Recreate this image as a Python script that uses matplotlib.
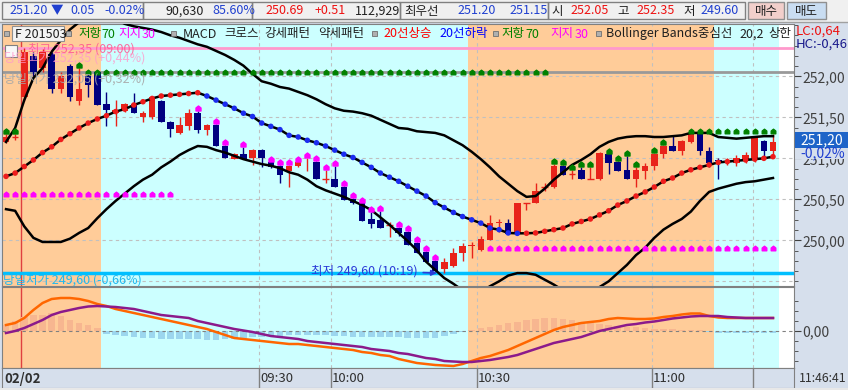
import numpy as np
import matplotlib.pyplot as plt
from matplotlib.patches import Rectangle
from matplotlib.path import Path

plt.rcParams['font.family'] = ['Noto Sans CJK KR', 'DejaVu Sans']

W, H = 848, 390

# ---- candle data (bar index 0..84) ----
opens = [251.20, 251.26, 251.75, 252.25, 252.10, 252.27, 251.85, 252.12, 251.70, 252.00,
         252.05, 251.66, 251.55, 251.58, 251.66, 251.50, 251.50, 251.70, 251.44, 251.31,
         251.39, 251.55, 251.35, 251.41, 251.15, 250.99, 251.05, 251.00, 251.10, 250.95,
         250.91, 250.85, 250.91, 250.95, 250.96, 250.75, 250.75, 250.65, 250.51, 250.45,
         250.26, 250.25, 250.19, 250.15, 250.10, 249.97, 249.86, 249.75, 249.65, 249.69,
         249.84, 249.93, 249.88, 250.00, 250.21, 250.21, 250.08, 250.46, 250.46, 250.65,
         250.65, 250.91, 250.81, 250.86, 250.75, 250.75, 251.05, 250.96, 250.86, 250.75,
         250.85, 250.91, 251.05, 251.15, 251.09, 251.20, 251.31, 251.09, 250.98, 250.97,
         250.94, 250.97, 251.00, 251.21, 251.09]
highs = [251.30, 251.30, 252.35, 252.30, 252.33, 252.30, 252.05, 252.15, 252.10, 252.05,
         252.06, 251.81, 251.71, 251.68, 251.80, 251.58, 251.76, 251.71, 251.45, 251.50,
         251.60, 251.58, 251.42, 251.42, 251.16, 251.06, 251.14, 251.11, 251.11, 250.96,
         250.92, 250.92, 250.96, 251.00, 250.97, 250.86, 250.91, 250.66, 250.52, 250.46,
         250.35, 250.36, 250.22, 250.16, 250.11, 249.98, 249.87, 249.76, 249.79, 249.91,
         249.97, 249.98, 250.05, 250.31, 250.26, 250.26, 250.46, 250.46, 250.70, 250.70,
         250.93, 250.92, 250.86, 250.89, 250.89, 251.08, 251.06, 250.97, 251.03, 250.90,
         250.94, 251.07, 251.16, 251.28, 251.22, 251.35, 251.32, 251.14, 251.00, 251.00,
         251.04, 251.08, 251.26, 251.22, 251.30]
lows = [251.19, 251.22, 251.70, 252.00, 252.05, 251.80, 251.80, 251.70, 251.65, 251.75,
        251.65, 251.40, 251.40, 251.56, 251.55, 251.44, 251.48, 251.44, 251.26, 251.30,
        251.35, 251.31, 251.28, 251.15, 251.00, 250.99, 250.99, 250.92, 250.89, 250.88,
        250.70, 250.65, 250.90, 250.85, 250.75, 250.70, 250.65, 250.49, 250.44, 250.23,
        250.15, 250.15, 250.04, 250.05, 249.94, 249.85, 249.74, 249.63, 249.60, 249.68,
        249.75, 249.78, 249.87, 250.00, 250.10, 250.08, 250.07, 250.37, 250.45, 250.60,
        250.64, 250.80, 250.75, 250.75, 250.75, 250.74, 250.81, 250.85, 250.75, 250.65,
        250.75, 250.86, 251.00, 251.09, 251.04, 251.19, 251.04, 250.90, 250.75, 250.92,
        250.91, 250.94, 250.95, 251.01, 251.01]
closes = [251.26, 251.26, 252.30, 252.05, 252.30, 251.85, 252.00, 251.75, 251.85, 251.90,
          251.65, 251.59, 251.59, 251.66, 251.55, 251.55, 251.75, 251.44, 251.36, 251.41,
          251.55, 251.35, 251.41, 251.15, 251.00, 251.05, 250.99, 251.10, 251.00, 250.89,
          250.80, 250.91, 250.95, 250.96, 250.75, 250.75, 250.65, 250.49, 250.45, 250.23,
          250.20, 250.15, 250.19, 250.09, 249.94, 249.85, 249.74, 249.63, 249.74, 249.85,
          249.93, 249.94, 250.02, 250.21, 250.22, 250.08, 250.46, 250.46, 250.60, 250.65,
          250.91, 250.80, 250.81, 250.75, 250.75, 251.06, 250.94, 250.85, 250.75, 250.86,
          250.91, 251.05, 251.15, 251.09, 251.21, 251.31, 251.09, 250.94, 250.97, 250.97,
          251.00, 251.04, 251.26, 251.09, 251.20]

# Bollinger bands 20,2 (center line = 20-bar average)
bb_mid = [250.78, 250.82, 250.90, 250.98, 251.07, 251.14, 251.23, 251.30, 251.37, 251.43,
          251.48, 251.52, 251.57, 251.60, 251.65, 251.69, 251.73, 251.76, 251.77, 251.78,
          251.79, 251.80, 251.76, 251.71, 251.66, 251.61, 251.55, 251.51, 251.43, 251.39,
          251.35, 251.28, 251.26, 251.22, 251.19, 251.15, 251.10, 251.05, 251.01, 250.95,
          250.89, 250.82, 250.77, 250.72, 250.66, 250.60, 250.54, 250.46, 250.40, 250.34,
          250.29, 250.25, 250.21, 250.15, 250.13, 250.09, 250.085, 250.086, 250.09, 250.11,
          250.13, 250.15, 250.20, 250.23, 250.26, 250.31, 250.36, 250.43, 250.48, 250.54,
          250.59, 250.65, 250.72, 250.76, 250.82, 250.86, 250.89, 250.92, 250.95, 250.96,
          250.97, 250.98, 250.99, 251.00, 251.02]
bb_up = [251.20, 251.37, 251.71, 251.98, 252.10, 252.30, 252.44, 252.57, 252.66, 252.74,
         252.78, 252.76, 252.70, 252.64, 252.61, 252.59, 252.57, 252.54, 252.50, 252.47,
         252.43, 252.39, 252.36, 252.31, 252.26, 252.20, 252.13, 252.03, 251.94, 251.91,
         251.87, 251.85, 251.81, 251.77, 251.72, 251.66, 251.61, 251.58, 251.57, 251.55,
         251.52, 251.47, 251.42, 251.37, 251.36, 251.33, 251.32, 251.31, 251.28, 251.22,
         251.16, 251.08, 250.99, 250.89, 250.78, 250.69, 250.60, 250.53, 250.54, 250.63,
         250.74, 250.83, 250.92, 250.98, 251.05, 251.14, 251.20, 251.24, 251.26, 251.27,
         251.27, 251.26, 251.26, 251.27, 251.28, 251.31, 251.31, 251.31, 251.26, 251.25,
         251.24, 251.25, 251.26, 251.27, 251.27]
bb_low = [250.38, 250.36, 250.17, 250.03, 249.98, 249.98, 249.98, 250.02, 250.09, 250.15,
          250.27, 250.38, 250.48, 250.57, 250.66, 250.74, 250.80, 250.89, 250.96, 251.04,
          251.10, 251.15, 251.14, 251.10, 251.07, 251.03, 250.99, 250.96, 250.93, 250.91,
          250.88, 250.83, 250.80, 250.74, 250.66, 250.61, 250.57, 250.53, 250.48, 250.43,
          250.37, 250.28, 250.19, 250.09, 249.99, 249.88, 249.74, 249.64, 249.54, 249.47,
          249.39, 249.35, 249.37, 249.44, 249.50, 249.57, 249.60, 249.60, 249.58, 249.52,
          249.46, 249.39, 249.37, 249.36, 249.38, 249.43, 249.50, 249.60, 249.70, 249.82,
          249.91, 250.03, 250.13, 250.20, 250.26, 250.35, 250.48, 250.59, 250.63, 250.66,
          250.69, 250.71, 250.72, 250.74, 250.76]

# MACD 12,26,9
macd = [0.06, 0.08, 0.13, 0.21, 0.28, 0.32, 0.33, 0.33, 0.32, 0.30,
        0.27, 0.25, 0.22, 0.20, 0.18, 0.16, 0.14, 0.12, 0.10, 0.08,
        0.06, 0.04, 0.02, -0.01, -0.04, -0.07, -0.08, -0.09, -0.10, -0.11,
        -0.12, -0.13, -0.13, -0.14, -0.15, -0.16, -0.17, -0.18, -0.19, -0.21,
        -0.22, -0.24, -0.25, -0.28, -0.30, -0.32, -0.33, -0.34, -0.345, -0.35,
        -0.33, -0.30, -0.27, -0.25, -0.22, -0.19, -0.15, -0.11, -0.07, -0.03,
        0.01, 0.04, 0.06, 0.08, 0.09, 0.10, 0.12, 0.13, 0.125, 0.12,
        0.12, 0.125, 0.14, 0.15, 0.165, 0.175, 0.175, 0.15, 0.135, 0.13,
        0.13, 0.13, 0.13, 0.13, 0.13]
signal = [-0.02, 0.00, 0.03, 0.07, 0.11, 0.16, 0.19, 0.21, 0.23, 0.245,
          0.25, 0.245, 0.24, 0.23, 0.22, 0.20, 0.18, 0.16, 0.15, 0.14,
          0.13, 0.10, 0.08, 0.06, 0.04, 0.02, 0.005, -0.01, -0.03, -0.05,
          -0.06, -0.07, -0.08, -0.10, -0.11, -0.12, -0.13, -0.14, -0.15, -0.16,
          -0.18, -0.19, -0.20, -0.22, -0.23, -0.25, -0.27, -0.28, -0.30, -0.305,
          -0.31, -0.31, -0.30, -0.29, -0.275, -0.26, -0.24, -0.21, -0.18, -0.15,
          -0.12, -0.10, -0.08, -0.06, -0.03, 0.00, 0.02, 0.04, 0.06, 0.07,
          0.085, 0.095, 0.11, 0.125, 0.135, 0.145, 0.15, 0.15, 0.15, 0.14,
          0.135, 0.13, 0.13, 0.13, 0.13]
osc = [0.06, 0.10, 0.14, 0.16, 0.16, 0.18, 0.15, 0.11, 0.08, 0.06,
       0.03, -0.03, -0.04, -0.05, -0.06, -0.07, -0.07, -0.08, -0.08, -0.08,
       -0.08, -0.08, -0.085, -0.085, -0.08, -0.075, -0.07, -0.06, -0.055, -0.05,
       -0.045, -0.04, -0.04, -0.04, -0.04, -0.04, -0.045, -0.05, -0.06, -0.06,
       -0.06, -0.06, -0.06, -0.06, -0.065, -0.07, -0.07, -0.07, -0.05, -0.03,
       -0.01, 0.01, 0.03, 0.04, 0.06, 0.08, 0.09, 0.11, 0.12, 0.13,
       0.13, 0.12, 0.11, 0.09, 0.08, 0.07, 0.06, 0.05, 0.04, 0.04,
       0.03, 0.02, 0.02, 0.02, 0.01, 0.01, 0.01, -0.01, -0.02, -0.02,
       -0.02, -0.02, -0.02, -0.015, -0.015]

# signal markers (저항 70 / 지지 30) drawn above the bar highs
resist_bars = [0, 1, 8, 60, 61, 62, 63, 64, 66, 67, 68, 69, 71, 72]
support_bars = [21, 23, 24, 26, 29, 30, 31, 32, 33, 34, 35, 36, 37, 38, 39, 40, 41,
                43, 44, 45, 46, 47]
# dotted level rows: (price, first bar, last bar)
resist_rows = [(252.05, 9, 59), (251.33, 75, 84)]
support_rows = [(250.56, 0, 18), (249.91, 53, 84)]

day_open, day_high, day_low = 252.05, 252.35, 249.60
price_ticks = [250.0, 250.5, 251.0, 251.5, 252.0]
grid_prices = [249.5, 250.0, 250.5, 251.0, 251.5, 252.0]
time_pos = [27.7, 35.6, 51.6, 70.75, 81.8]
time_lab = ['09:30', '10:00', '10:30', '11:00', '']
day_start = 1.6
bands = [(-0.5, 10.45, '#ffcc99'), (10.45, 50.6, '#ccffff'),
         (50.6, 77.55, '#ffcc99'), (77.55, 84.65, '#ccffff')]

RED, NAVY = '#e8231a', '#000080'
XL = (-0.44, 86.3)


def comma(v):
    return f'{v:.2f}'.replace('.', ',')


fig = plt.figure(figsize=(W / 100, H / 100), dpi=100)
fig.patch.set_facecolor('#d6dfec')


def px_axes(x0, y0, x1, y1, **kw):
    return fig.add_axes([x0 / W, 1 - y1 / H, (x1 - x0) / W, (y1 - y0) / H], **kw)


ax = px_axes(2, 24, 794, 286)
am = px_axes(2, 287, 794, 368)
at = px_axes(2, 368, 794, 388)

x = np.arange(len(opens))
o, hi, lo, c = map(np.array, (opens, highs, lows, closes))

for a in (ax, am):
    a.set_facecolor('white')
    a.set_xlim(*XL)
    for b0, b1, col in bands:
        a.axvspan(b0, b1, color=col, lw=0, zorder=0)
    for t in time_pos:
        a.axvline(t, color='#c0c0c0', ls=(0, (3, 3)), lw=0.8, zorder=1)
    a.axvline(day_start, color='#e04040', lw=1, zorder=1)
    a.set_xticks([])
    for s in a.spines.values():
        s.set_color('#808080')

# ---- price panel ----
ax.set_ylim(249.443, 252.638)
for gp in grid_prices:
    ax.axhline(gp, color='#c0c0c0', ls=(0, (3, 3)), lw=0.8, zorder=1)
ax.axhline(day_high, color='#ff99cc', lw=2, zorder=2)
ax.axhline(day_open, color='#999999', lw=2, zorder=2)
ax.axhline(day_low, color='#00bfff', lw=2.5, zorder=2)

up = c >= o
cols = np.where(up, RED, NAVY)
ax.vlines(x, lo, hi, colors=cols, lw=1, zorder=4)
body = np.abs(c - o)
ax.bar(x, np.where(body < 0.005, 0, body), bottom=np.minimum(o, c), width=0.72,
       color=cols, zorder=4)
doji = body < 0.005
ax.hlines(c[doji], x[doji] - 0.36, x[doji] + 0.36, colors=cols[doji], lw=1, zorder=4)

ax.plot(x, bb_up, color='black', lw=1.8, zorder=5)
ax.plot(x, bb_low, color='black', lw=1.8, zorder=5)
ax.plot(x, bb_mid, color='black', lw=1.8, zorder=5)
mid = np.array(bb_mid)
rising = np.r_[True, np.diff(mid) >= 0]
ax.scatter(x, mid, s=16, c=np.where(rising, '#ee1c1c', '#1c2cf0'), zorder=6, lw=0)

house = Path([(-1, -1), (1, -1), (1, 0.2), (0, 1), (-1, 0.2), (-1, -1)],
             [Path.MOVETO, Path.LINETO, Path.LINETO, Path.LINETO, Path.LINETO, Path.CLOSEPOLY])
ax.plot(x[resist_bars], hi[resist_bars] + 0.035, ls='none', marker=house, ms=3.6,
        color='#008000', zorder=7)
ax.plot(x[support_bars], hi[support_bars] + 0.035, ls='none', marker=house, ms=3.6,
        color='#ff00ff', zorder=7)
for lvl, b0, b1 in resist_rows:
    xs = np.arange(b0, b1 + 1)
    ax.plot(xs, np.full(len(xs), lvl), ls='none', marker=house, ms=3.3, color='#008000', zorder=7)
for lvl, b0, b1 in support_rows:
    xs = np.arange(b0, b1 + 1)
    ax.plot(xs, np.full(len(xs), lvl), ls='none', marker=house, ms=3.3, color='#ff00ff', zorder=7)

ax.yaxis.tick_right()
ax.set_yticks(price_ticks)
ax.set_yticklabels([comma(v) for v in price_ticks])
ax.set_yticks(np.arange(249.5, 252.65, 0.125), minor=True)
ax.tick_params(axis='y', which='both', direction='out', colors='#404040', labelsize=10,
               length=5, pad=1)
ax.tick_params(axis='y', which='minor', length=3)

ax.annotate('최저 249,60 (10:19)', xy=(47.5, day_low), xytext=(33.4, day_low + 0.03),
            color='#2a3ad8', fontsize=9, va='center',
            arrowprops=dict(arrowstyle='-|>', color='#2a3ad8', lw=1.2, mutation_scale=8), zorder=8)

# ---- MACD panel ----
am.set_ylim(-0.37, 0.44)
osc_a = np.array(osc)
am.bar(x, osc_a, width=0.72, color=np.where(osc_a >= 0, '#f7b690', '#9cd6ee'), zorder=1)
am.axhline(0, color='#808080', ls=(0, (3, 3)), lw=0.8, zorder=1)
am.plot(x, macd, color='#ff6600', lw=1.8, zorder=3)
am.plot(x, signal, color='#8b1a8b', lw=1.8, zorder=3)
am.yaxis.tick_right()
am.set_yticks([0])
am.set_yticklabels(['0,00'])
am.set_yticks([-0.3, -0.2, -0.1, 0.1, 0.2, 0.3], minor=True)
am.tick_params(axis='y', which='both', direction='out', colors='#404040', labelsize=10,
               length=5, pad=1)
am.tick_params(axis='y', which='minor', length=3)

# ---- time axis ----
at.set_facecolor('#d6dfec')
at.set_xlim(*XL)
at.set_ylim(0, 1)
at.set_xticks([])
at.set_yticks([])
for s in at.spines.values():
    s.set_color('#808080')
for t, lab in zip(time_pos, time_lab):
    at.axvline(t, color='#808080', lw=1)
    at.text(t + 0.12, 0.45, lab, fontsize=9.5, color='#303030', va='center')
at.text(-0.2, 0.45, '02/02', fontsize=9.5, fontweight='bold', color='#303030', va='center')

# ---- overlay: header bar, legend row, labels ----
ov = fig.add_axes([0, 0, 1, 1], zorder=10)
ov.set_xlim(0, W)
ov.set_ylim(H, 0)
ov.axis('off')

ov.add_patch(Rectangle((0, 0), W, 22, fc='#f0f0f0', ec='none'))
ov.plot([0, W], [22, 22], color='#a0a0a0', lw=1)
for x0, x1 in [(2, 143), (143, 252), (252, 400), (400, 548), (548, 745)]:
    ov.add_patch(Rectangle((x0, 2), x1 - x0, 17, fc='none', ec='#808080', lw=1))
ov.add_patch(Rectangle((748, 2), 36, 17, fc='#f2cfcb', ec='#909090', lw=1))
ov.add_patch(Rectangle((787, 2), 39, 17, fc='#c9ddf2', ec='#909090', lw=1))

BLUE_T, RED_T = '#2040d0', '#ee1010'
head = [(9, '251.20', BLUE_T), (51, '▼', BLUE_T), (70, '0.05', BLUE_T), (104, '-0.02%', BLUE_T),
        (165, '90,630', '#202020'), (212, '85.60%', BLUE_T),
        (265, '250.69', RED_T), (315, '+0.51', RED_T), (355, '112,929', '#202020'),
        (404, '최우선', '#202020'), (457, '251.20', BLUE_T), (509, '251.15', BLUE_T),
        (551, '시', '#202020'), (570, '252.05', RED_T), (617, '고', '#202020'),
        (636, '252.35', RED_T), (683, '저', '#202020'), (700, '249.60', BLUE_T)]
for hx, s, col in head:
    ov.text(hx, 11, s, color=col, fontsize=9, va='center')
ov.text(766, 11, '매수', fontsize=9, va='center', ha='center', color='#202020')
ov.text(806, 11, '매도', fontsize=9, va='center', ha='center', color='#202020')

# legend row, word by word
for sx in [4, 66, 171, 372, 493, 596]:
    ov.add_patch(Rectangle((sx, 31), 5, 5, fc='#b0b0b0', ec='#707070', lw=0.6))
ov.add_patch(Rectangle((12, 26), 52, 15, fc='#f4f4f4', ec='#909090', lw=0.8))
leg = [(15, 'F 201503', '#202020'), (78, '저항', '#008000'), (101, '70', '#008000'),
       (118, '지지', '#ff00ff'), (142, '30', '#ff00ff'),
       (183, 'MACD', '#202020'), (224, '크로스', '#202020'), (264, '강세패턴', '#202020'),
       (318, '약세패턴', '#202020'), (383, '20선상승', '#ff0000'), (439, '20선하락', '#0000ff'),
       (501, '저항', '#008000'), (525, '70', '#008000'), (550, '지지', '#ff00ff'),
       (575, '30', '#ff00ff'), (606, 'Bollinger Bands중심선', '#202020'),
       (739, '20,2', '#202020'), (768, '상한', '#202020')]
for lx, s, col in leg:
    ov.text(lx, 34, s, color=col, fontsize=9, va='center')

ov.add_patch(Rectangle((5, 45), 12, 12, fc='#f8f8f8', ec='#808080', lw=0.8))
ov.text(28, 49, '최고 252,35 (09:00)', color='#ff5590', fontsize=9, va='center', alpha=0.85)
ov.text(4, 58, '당일고가 252,35 (+0,44%)', color='#ff99cc', fontsize=9, va='center', alpha=0.8)
ov.text(4, 79, '당일시가 252,05 (+0,32%)', color='#a8a8a8', fontsize=9, va='center', alpha=0.9)
ov.text(3, 280, '당일저가 249,60 (-0,66%)', color='#20b8ee', fontsize=9, va='center')

ov.text(796, 31, 'LC:0,64', color='#ee1010', fontsize=9.5, va='center')
ov.text(796, 44, 'HC:-0,46', color='#1a1a8c', fontsize=9.5, va='center')
ov.add_patch(Rectangle((795, 132), 53, 16, fc='#1e64c8', ec='none'))
ov.add_patch(Rectangle((795, 148), 53, 11, fc='#d6dfec', ec='none'))
ov.text(800, 140, '251,20', color='white', fontsize=10, va='center')
ov.text(800, 153, '-0,02%', color='#2040d0', fontsize=10, va='center')
ov.text(799, 378, '11:46:41', color='#303030', fontsize=8.8, va='center')
ov.add_patch(Rectangle((0, 388), W, 2, fc='#e8e8e8', ec='none'))

fig.savefig('out.png', dpi=100, facecolor=fig.get_facecolor())
